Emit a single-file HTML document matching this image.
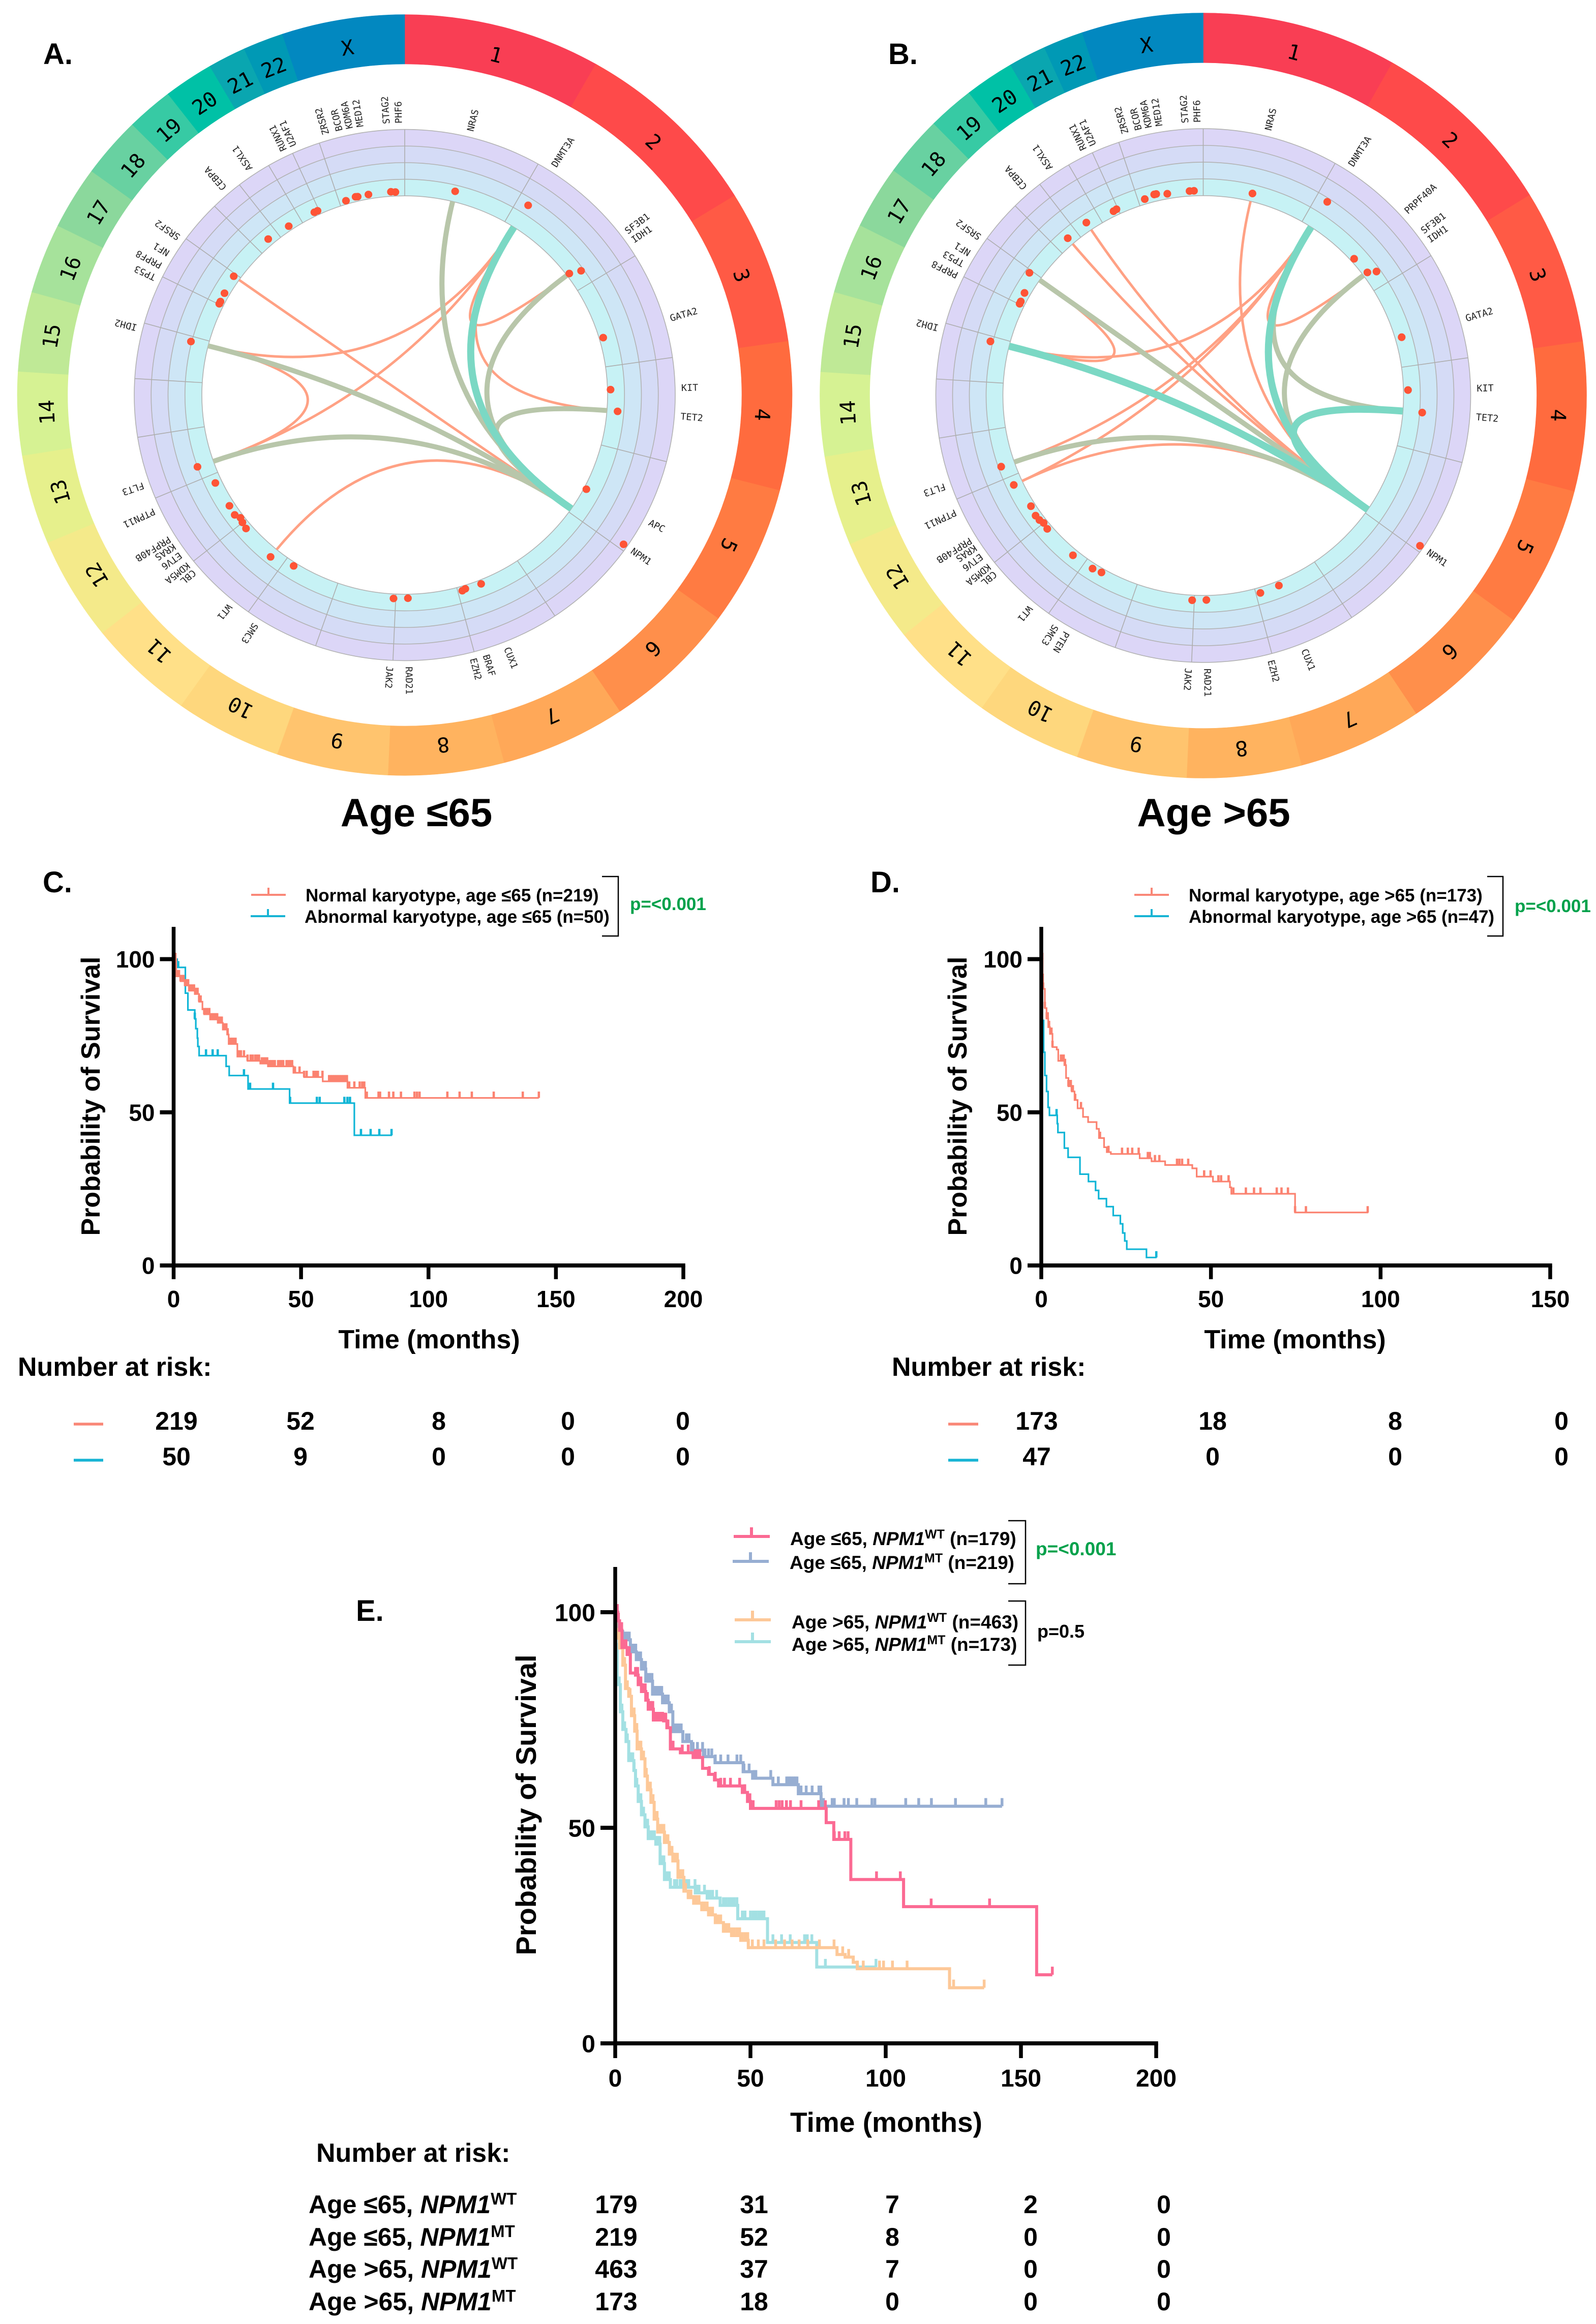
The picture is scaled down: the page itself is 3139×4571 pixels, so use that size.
<!DOCTYPE html>
<html lang="en">
<head>
<meta charset="utf-8">
<title>Circos and survival panels</title>
<style>
html,body{margin:0;padding:0;background:#fff;}
svg{display:block;}
text{font-family:"Liberation Sans",Arial,sans-serif;fill:#000;}
.b{font-weight:700;}
.mono{font-family:"DejaVu Sans Mono",monospace;}
</style>
</head>
<body>
<svg id="fig" xmlns="http://www.w3.org/2000/svg" width="3139" height="4571" viewBox="0 0 3139 4571">
<rect width="3139" height="4571" fill="#fff"/>

<g id="circosA"></g>
<g id="circosB"></g>

<text class="b" x="85" y="126" font-size="58">A.</text>
<text class="b" x="1747" y="126" font-size="58">B.</text>
<text class="b" x="819" y="1625" font-size="78" text-anchor="middle">Age ≤65</text>
<text class="b" x="2387" y="1625" font-size="78" text-anchor="middle">Age &gt;65</text>

<g id="kmC"></g>
<g id="kmD"></g>
<g id="kmE"></g>

<text class="b" x="84" y="1755" font-size="58">C.</text>
<text class="b" x="1712" y="1755" font-size="58">D.</text>
<text class="b" x="700" y="3188" font-size="58">E.</text>

<!-- Legend C -->
<g>
  <path d="M494 1760H562M528 1760V1746" stroke="#f98777" stroke-width="4" fill="none"/>
  <text class="b" x="601" y="1773" font-size="35">Normal karyotype, age ≤65 (n=219)</text>
  <path d="M493 1802H561M527 1802V1788" stroke="#17b4d4" stroke-width="4" fill="none"/>
  <text class="b" x="599" y="1815" font-size="35">Abnormal karyotype, age ≤65 (n=50)</text>
  <path d="M1184 1724H1216V1841H1184" stroke="#000" stroke-width="2.5" fill="none"/>
  <text class="b" x="1239" y="1790" font-size="35" style="fill:#00a14b">p=&lt;0.001</text>
</g>
<!-- Legend D -->
<g>
  <path d="M2231 1760H2299M2265 1760V1746" stroke="#f98777" stroke-width="4" fill="none"/>
  <text class="b" x="2338" y="1773" font-size="35">Normal karyotype, age &gt;65 (n=173)</text>
  <path d="M2231 1802H2299M2265 1802V1788" stroke="#17b4d4" stroke-width="4" fill="none"/>
  <text class="b" x="2338" y="1815" font-size="35">Abnormal karyotype, age &gt;65 (n=47)</text>
  <path d="M2925 1724H2956V1841H2925" stroke="#000" stroke-width="2.5" fill="none"/>
  <text class="b" x="2979" y="1794" font-size="35" style="fill:#00a14b">p=&lt;0.001</text>
</g>
<!-- Legend E -->
<g>
  <path d="M1443 3022H1514M1478 3022V3004" stroke="#fb6a93" stroke-width="6" fill="none"/>
  <text class="b" x="1554" y="3039" font-size="37">Age ≤65, <tspan font-style="italic">NPM1</tspan><tspan dy="-13" font-size="25">WT</tspan><tspan dy="13"> (n=179)</tspan></text>
  <path d="M1441 3071H1512M1476 3071V3053" stroke="#97aed2" stroke-width="6" fill="none"/>
  <text class="b" x="1553" y="3086" font-size="37">Age ≤65, <tspan font-style="italic">NPM1</tspan><tspan dy="-13" font-size="25">MT</tspan><tspan dy="13"> (n=219)</tspan></text>
  <path d="M1445 3186H1516M1480 3186V3168" stroke="#fdc898" stroke-width="6" fill="none"/>
  <text class="b" x="1557" y="3203" font-size="37">Age &gt;65, <tspan font-style="italic">NPM1</tspan><tspan dy="-13" font-size="25">WT</tspan><tspan dy="13"> (n=463)</tspan></text>
  <path d="M1445 3229H1516M1480 3229V3211" stroke="#a3e0e3" stroke-width="6" fill="none"/>
  <text class="b" x="1557" y="3247" font-size="37">Age &gt;65, <tspan font-style="italic">NPM1</tspan><tspan dy="-13" font-size="25">MT</tspan><tspan dy="13"> (n=173)</tspan></text>
  <path d="M1983 2991H2017V3115H1983" stroke="#000" stroke-width="2.5" fill="none"/>
  <path d="M1983 3149H2017V3275H1983" stroke="#000" stroke-width="2.5" fill="none"/>
  <text class="b" x="2037" y="3059" font-size="37" style="fill:#00a14b">p=&lt;0.001</text>
  <text class="b" x="2040" y="3221" font-size="36">p=0.5</text>
</g>

<!-- Axis titles -->
<text class="b" font-size="52" text-anchor="middle" transform="translate(196,2156) rotate(-90)">Probability of Survival</text>
<text class="b" font-size="52" text-anchor="middle" transform="translate(1901,2156) rotate(-90)">Probability of Survival</text>
<text class="b" font-size="56" text-anchor="middle" transform="translate(1054,3550) rotate(-90)">Probability of Survival</text>
<text class="b" font-size="52" x="844" y="2652" text-anchor="middle">Time (months)</text>
<text class="b" font-size="52" x="2547" y="2652" text-anchor="middle">Time (months)</text>
<text class="b" font-size="55" x="1743" y="4193" text-anchor="middle">Time (months)</text>

<text class="b" font-size="52" x="35" y="2706">Number at risk:</text>
<text class="b" font-size="52" x="1754" y="2706">Number at risk:</text>
<text class="b" font-size="52" x="622" y="4252">Number at risk:</text>

<path d="M145 2801H203" stroke="#f98777" stroke-width="5.5"/>
<path d="M145 2872H203" stroke="#17b4d4" stroke-width="5.5"/>
<path d="M1865 2801H1924" stroke="#f98777" stroke-width="5.5"/>
<path d="M1865 2872H1924" stroke="#17b4d4" stroke-width="5.5"/>

<text class="b" x="607" y="4353" font-size="50">Age ≤65, <tspan font-style="italic">NPM1</tspan><tspan dy="-17" font-size="33">WT</tspan></text>
<text class="b" x="607" y="4417" font-size="50">Age ≤65, <tspan font-style="italic">NPM1</tspan><tspan dy="-17" font-size="33">MT</tspan></text>
<text class="b" x="607" y="4480" font-size="50">Age &gt;65, <tspan font-style="italic">NPM1</tspan><tspan dy="-17" font-size="33">WT</tspan></text>
<text class="b" x="607" y="4544" font-size="50">Age &gt;65, <tspan font-style="italic">NPM1</tspan><tspan dy="-17" font-size="33">MT</tspan></text>
</svg>

<script>
/* ---------- genome data (Mb) ---------- */
const chromNames = ['1','2','3','4','5','6','7','8','9','10','11','12','13','14','15','16','17','18','19','20','21','22','X'];
const chromLengths = [249.25,243.2,198.02,191.15,180.92,171.12,159.14,146.36,141.21,135.53,135.01,133.85,115.17,107.35,102.53,90.35,81.2,78.08,59.13,63.03,48.13,51.3,155.27];
const chromColors = ['#f93e54','#fe4a4a','#ff5a45','#ff6b3e','#ff7b42','#ff8f4b','#ffa858','#ffb35f','#ffc46e','#fed77d','#ffe088','#f4ea8a','#e6f08c','#d6f293','#bfe996','#a6e29b','#8bd89c','#68d1a1','#37caa4','#00c1a6','#0aa6b0','#0099b5','#0288c0'];
const geneNames = ['NRAS','DNMT3A','PRPF40A','SF3B1','IDH1','GATA2','KIT','TET2','APC','NPM1','CUX1','BRAF','EZH2','RAD21','JAK2','PTEN','SMC3','WT1','CBL','KDM5A','ETV6','KRAS','PRPF40B','PTPN11','FLT3','IDH2','PRPF8','TP53','NF1','SRSF2','CEBPA','ASXL1','RUNX1','U2AF1','ZRSR2','BCOR','KDM6A','MED12','STAG2','PHF6'];
const geneChroms = ['1','2','2','2','2','3','4','4','5','5','7','7','7','8','9','10','10','11','11','12','12','12','12','12','13','15','17','17','17','17','19','20','21','21','X','X','X','X','X','X'];
const geneMb = [115.25,25.5,153.5,198.3,209.1,128.2,55.6,106.2,112.2,170.8,101.7,140.5,148.5,117.9,5.1,89.7,112.3,32.4,119.1,0.4,11.9,25.4,50,112.9,28.6,90.6,1.6,7.6,29.4,74.7,33.8,31,36.3,44.5,15.8,39.9,44.7,70.3,123.1,133.5];

/* mutation level per gene, in track-band units */
const levelsAGenes = ['NRAS','DNMT3A','SF3B1','IDH1','GATA2','KIT','TET2','APC','NPM1','CUX1','BRAF','EZH2','RAD21','JAK2','SMC3','WT1','CBL','KDM5A','ETV6','KRAS','PRPF40B','PTPN11','FLT3','IDH2','TP53','PRPF8','NF1','SRSF2','CEBPA','ASXL1','RUNX1','U2AF1','ZRSR2','BCOR','KDM6A','MED12','STAG2','PHF6'];
const levelsA = [0.63,1.56,0.18,0.84,0.24,0.18,0.63,0.15,3.76,0.24,0.21,0.27,0.24,0.27,0.21,0.57,0.36,0.29,0.21,0.38,0.33,0.39,1.0,1.05,0.27,0.27,0.3,0.39,0.39,0.27,0.24,0.24,0.21,0.29,0.27,0.27,0.27,0.24];
const levelsBGenes = ['NRAS','DNMT3A','PRPF40A','SF3B1','IDH1','GATA2','KIT','TET2','NPM1','CUX1','EZH2','RAD21','JAK2','PTEN','SMC3','WT1','CBL','KDM5A','ETV6','KRAS','PRPF40B','PTPN11','FLT3','IDH2','TP53','PRPF8','NF1','SRSF2','CEBPA','ASXL1','RUNX1','U2AF1','ZRSR2','BCOR','KDM6A','MED12','STAG2','PHF6'];
const levelsB = [0.48,1.79,0.21,0.3,0.77,0.39,0.27,1.15,3.79,0.27,0.33,0.27,0.3,0.24,0.32,0.36,0.3,0.24,0.33,0.36,0.27,0.55,0.83,1.15,0.3,0.3,0.35,0.75,0.45,0.52,0.3,0.33,0.3,0.42,0.42,0.3,0.3,0.3];
const linksA = [['NPM1','SRSF2','s'],['NPM1','WT1','s'],['DNMT3A','IDH2','s'],['DNMT3A','FLT3','s'],['IDH2','FLT3','s'],['DNMT3A','SF3B1','s'],['DNMT3A','TET2','s'],['NPM1','NRAS','m'],['NPM1','TET2','m'],['NPM1','SF3B1','m'],['NPM1','IDH2','m'],['NPM1','FLT3','m'],['NPM1','DNMT3A','l']];
const linksB = [['NPM1','NRAS','s'],['NPM1','CEBPA','s'],['NPM1','ASXL1','s'],['DNMT3A','IDH2','s'],['IDH2','SRSF2','s'],['DNMT3A','FLT3','s'],['DNMT3A','PTPN11','s'],['NPM1','PTPN11','s'],['DNMT3A','SF3B1','s'],['NPM1','SRSF2','m'],['NPM1','FLT3','m'],['DNMT3A','TET2','m'],['NPM1','SF3B1','m'],['NPM1','DNMT3A','l'],['NPM1','IDH2','l'],['NPM1','TET2','l']];
const labelNudge = {IDH1:1,EZH2:1.8,ETV6:1.3,KRAS:1.9,PRPF40B:0.8,NF1:1.4,U2AF1:1.2,KDM6A:1.6,MED12:0.8,PHF6:1.3};

/* ---------- survival data: step times (months), survival (%), censor times ---------- */
const tickY = [0,50,100];
const tickX200 = [0,50,100,150,200];
const tickX150 = [0,50,100,150];

const cNormT = [0,1,2.7,4.35,6,8.3,10,11.3,12,14.3,17.3,19.3,21,21.6,25,29,34,37,47,51.2,58.5,68.2,75.2,143.3];
const cNormS = [100,94.4,92.8,91.4,89.7,88.6,86.1,83.6,82,80.3,79.2,77,75.4,72.3,68.2,66.8,65.9,65,62.9,61.5,60.1,58,54.7,54.7];
const cNormC = [0.3,0.7,1.5,2.1,2.7,3.3,3.9,4.5,5.1,5.7,6.3,6.9,7.4,8,8.7,9.4,10,10.6,12,12.7,13.3,14,14.7,15.3,15.9,16.5,17.1,17.7,18.3,18.9,19.5,20.1,20.7,21.2,21.8,22.5,23.1,23.7,24.3,25.2,25.8,26.4,27.6,29,30.2,31,32,32.7,33.5,34.6,35.3,36,36.7,37.6,38.3,39,39.7,41,41.7,42.4,43,44.3,45,45.7,46.5,47.6,49.4,51.2,52.2,54.9,55.7,56.6,58.4,61,61.7,62.4,63.1,63.8,64.5,65.2,65.9,66.6,67.3,68,68.9,70.9,73,74,74.8,75.8,80.4,81,84.5,86.2,89.2,94.5,95.5,96.5,107.4,112.2,117,125.6,137,143.3];
const cAbnT = [0,1.4,4.6,5.6,8.3,8.7,9.3,9.5,10,10.2,20.6,21.8,29.2,45.5,70.9,85.7];
const cAbnS = [100,97.3,88.9,83.4,80.5,77.3,74.2,71.5,68.5,68.5,65,62,57.6,53,42.5,42.5];
const cAbnC = [0,1.8,8.3,12.7,15.3,17.3,27.6,30,39,45.7,56.2,57.3,67,68.2,69.2,73.5,77.3,80.7,85.5];

const dNormT = [0,0.4,0.55,1.05,1.55,2.05,2.55,3.3,4.55,5,6.8,7.3,8,9,9.8,10.7,12.3,13.8,16.3,17,18.5,19.3,20.5,29,32.5,36.5,44.5,45.8,50.6,55.6,56,74.8,96.4];
const dNormS = [100,95,90.3,84,80.6,77.8,75.6,71.3,70.5,66.8,65.4,61.2,58.5,56.8,54,51.3,48.5,46.8,44.6,41.6,38.6,37,36.4,35,34,32.8,31.7,29,27.4,25.5,23.4,17.3,17.3];
const dNormC = [0,0.3,0.55,1.05,1.6,1.9,2.3,2.7,3,3.3,5.8,6.2,6.6,7,8,8.4,8.7,9,9.3,10,11.7,17.3,19.8,23.8,25.5,26.8,28.7,31.4,32,33.5,34.8,40,40.7,41.5,43.3,48,49.9,52.2,53,55.2,56.6,60.3,62.7,64.6,69.4,70.8,72.7,74.8,78,96.2];
const dAbnT = [0,0.1,0.3,0.7,1.05,1.55,2,2.4,4.7,4.9,6.8,7.9,11.4,13.9,16,16.9,19.2,21.2,23.3,24,24.6,25.2,31,34];
const dAbnS = [100,89,80,69.6,62,56.8,51.6,49,46.3,43.4,38.3,35.3,29.8,27.4,24.5,21.8,19.2,16.3,13.6,10.6,8,5.3,2.6,2.6];
const dAbnC = [0.05,0.1,4.5,33.9];

const eYoungWtT = [0,0.94,1.6,2.5,4.4,5.6,7.5,8.5,9.7,11.3,12.2,14.1,17.9,19.1,20.4,24.1,28.8,32.3,34.5,36.7,38.2,47,48.9,50,78,80.8,87.1,106.6,155.8,161.6];
const eYoungWtS = [100,98,95.8,91.8,90.2,85.9,85.4,83.2,81.6,79.6,77.5,75,74.8,73.2,68.3,67.4,66.3,63.8,62.4,61.1,59.7,58.2,56.1,54.5,51.2,47.3,38,31.7,15.9,15.9];
const eYoungWtC = [0,0.4,0.8,1.2,1.6,2,2.4,2.8,3.2,3.6,4,4.4,4.8,5.2,5.6,7.5,7.9,8.3,8.7,9.1,9.5,9.9,10.3,10.7,11.1,11.5,11.9,12.3,12.7,13.1,13.5,13.9,14.3,14.7,15.1,15.5,15.9,16.3,16.7,17.1,17.5,17.9,18.3,18.7,19.1,19.5,20.4,20.9,21.4,24.8,27,29.5,30.4,31.3,34.8,37,39,40.4,42.6,46,47.9,49.8,51,59.5,60.6,61.7,63.3,64.8,68.7,75.2,77.7,81,82.8,84.9,86.1,96.6,105.4,116.8,138.4,161.6];
const eYoungMtT = [0,0.94,3.1,5.6,7.8,9.7,11.3,13.8,17.5,20,21.3,25,28.2,32.6,36.9,47.3,50.8,58.3,67.7,76.1,143];
const eYoungMtS = [100,94,93.6,90.8,89,86.8,84,81,79,76.9,72.3,70,68,66.5,65.1,63,61.5,60,57.9,55,55];
const eYoungMtC = [1,1.6,2.2,2.8,3.4,4,4.6,5.2,5.8,6.4,7,7.6,8.2,8.8,9.4,10,10.6,11.2,11.8,12.4,13,13.6,14.2,14.8,15.4,16,16.6,17.2,17.8,18.4,19,19.6,20.2,20.8,21.4,22,22.6,23.2,23.8,24.4,26.3,27.3,28.8,30.4,32.3,33.2,34.5,35.7,37,39,41.7,45,46.4,47.6,49.5,51.4,52,57.5,60.3,63.4,64,64.6,65.2,65.9,66.5,67.2,68.7,70.6,72.8,75.3,76,77,80.2,81,84.6,86.2,89.3,94.9,96,107.4,112.2,116.9,125.8,137,143];
const eOldWtT = [0,0.3,0.6,1.6,2.8,3.8,5,6,7.2,8.1,9.7,11,11.9,13.2,14.4,15.7,18.2,20,21.3,23.2,25.4,27,29,32,34.5,37,40,43,46.4,49.2,82,85,88,89.5,123.6,136.4];
const eOldWtS = [100,96,94,91.7,87.7,82.3,80.5,76,72.4,68.3,66,62,58.8,55.9,52,49,46.6,43.9,42.3,38.5,35.3,33.8,32.5,31,29.8,28,26,25,23.9,22.2,20.6,20,18.8,17.3,12.9,12.9];
const eOldWtC = [1,1.5,2,2.5,3,3.5,4,4.5,5,5.5,6,6.5,7,7.5,8,8.5,9,9.5,10,10.5,11,11.5,12,12.5,13,13.5,14,14.5,15,15.5,16,16.5,17,17.5,18,18.5,19,19.5,20,20.5,21,21.5,22,22.5,23,23.5,24,25,26,27,28,29,30,31,32,33,34,35,36,37,38,39,40,41,42,43,44,45,46,47,48,49,50.7,52.9,55,59.3,62.6,65.4,68,71.2,75.5,80.9,84.1,86.3,89.5,91.7,97.7,99.2,102.5,107.9,125.1,136.4];
const eOldMtT = [0,0.3,0.75,1.9,2.8,4,5,6.9,7.5,8.5,9.7,11,12.2,15,16.6,18.2,20.4,29.6,34,38.8,45.3,56.3,74.5,96.4];
const eOldMtS = [100,91,83.2,76.9,72.8,70,65.6,63.3,59.7,56.1,53,50.2,47.5,46.2,41.7,38,36.2,34.9,33.7,32,28.9,23.4,17.7,17.7];
const eOldMtC = [0.5,1,1.5,2,2.5,3,3.5,4,4.5,5,5.5,6,6.5,7,7.5,8,8.5,9,9.5,10,10.5,11,11.5,12,12.5,13,13.5,14,14.5,15,15.5,16,16.5,17,17.5,18,18.5,19,19.5,20,21.9,22.8,24,25,26,26.6,27.2,29.5,30.5,31,33,34,35,36,37.5,40,41,42,43,44,45,47,48,50,51,52,53,54,55,58.3,61.5,64.7,70,71,72.7,77.7,96.4];

const riskC = [['219','52','8','0','0'],['50','9','0','0','0']];
const riskD = [['173','18','8','0'],['47','0','0','0']];
const riskE = [['179','31','7','2','0'],['219','52','8','0','0'],['463','37','7','0','0'],['173','18','0','0','0']];

/* ---------- helpers ---------- */
const NS = 'http://www.w3.org/2000/svg';
function mk(parent, tag, attrs, txt) {
  const el = document.createElementNS(NS, tag);
  for (const k in attrs) el.setAttribute(k, attrs[k]);
  if (txt !== undefined) el.textContent = txt;
  parent.appendChild(el);
  return el;
}
function polar(r, a) {
  const t = a * Math.PI / 180;
  return [r * Math.sin(t), -r * Math.cos(t)];
}
const genomeTotal = chromLengths.reduce((a, b) => a + b, 0);
function chromStart(i) {
  let s = 0;
  for (let k = 0; k < i; k++) s += chromLengths[k];
  return s;
}
function angleOf(chr, mb) {
  return (chromStart(chromNames.indexOf(chr)) + mb) / genomeTotal * 360;
}
function geneAngle(name) {
  const i = geneNames.indexOf(name);
  return angleOf(geneChroms[i], geneMb[i]);
}
function wedge(r0, r1, a0, a1) {
  const p = polar(r1, a0), q = polar(r1, a1), u = polar(r0, a1), v = polar(r0, a0);
  const big = a1 - a0 > 180 ? 1 : 0;
  return `M${p[0]} ${p[1]}A${r1} ${r1} 0 ${big} 1 ${q[0]} ${q[1]}L${u[0]} ${u[1]}A${r0} ${r0} 0 ${big} 0 ${v[0]} ${v[1]}Z`;
}

/* ---------- circos ---------- */
function drawCircos(host, o) {
  const g = mk(host, 'g', {transform: `translate(${o.cx},${o.cy}) scale(1,${o.sy})`});
  chromNames.forEach((name, i) => {
    const a0 = chromStart(i) / genomeTotal * 360;
    const a1 = (chromStart(i) + chromLengths[i]) / genomeTotal * 360;
    const seg = mk(g, 'path', {d: wedge(o.ringIn, o.ringOut, a0, a1), fill: chromColors[i], stroke: chromColors[i], 'stroke-width': 0.6});
    
    
    const t = mk(g, 'text', {class: 'mono', 'font-size': 41, 'text-anchor': 'middle', dy: '0.36em', transform: `rotate(${(a0 + a1) / 2}) translate(0,${-o.ringLabel})`}, name);
    
    
  });
  const fills = ['#dcd6f7', '#d5dbf6', '#cee6f6', '#c7f2f5'];
  fills.forEach((f, i) => {
    const c = mk(g, 'circle', {r: o.trackOut - i * o.band, fill: f, stroke: '#b2b2b2', 'stroke-width': 1.6});
    
    
  });
  const hole = mk(g, 'circle', {r: o.trackOut - 4 * o.band, fill: '#fff', stroke: '#b2b2b2', 'stroke-width': 1.6});
  
  
  chromNames.forEach((name, i) => {
    const a = chromStart(i) / genomeTotal * 360;
    const p = polar(o.trackOut, a), q = polar(o.trackOut - 4 * o.band, a);
    const l = mk(g, 'line', {x1: p[0], y1: p[1], x2: q[0], y2: q[1], stroke: '#adadad', 'stroke-width': 1.6});
    
    
  });
  const inner = o.trackOut - 4 * o.band;
  const style = {s: ['#ffa184', 5], m: ['#b8c6aa', 10], l: ['#7bd8c4', 14]};
  o.links.forEach(lk => {
    const p = polar(inner, geneAngle(lk[0])), q = polar(inner, geneAngle(lk[1]));
    const path = mk(g, 'path', {d: `M${p[0]} ${p[1]}Q0 0 ${q[0]} ${q[1]}`, fill: 'none', stroke: style[lk[2]][0], 'stroke-width': style[lk[2]][1]});
    
    
  });
  o.genes.forEach((name, i) => {
    const a = geneAngle(name);
    const p = polar(inner + o.levels[i] * o.band, a);
    const c = mk(g, 'circle', {cx: p[0], cy: p[1], r: 7.6, fill: '#ff5436'});
    
    
    let la = a + (labelNudge[name] || 0);
    if (o.nudge[name] !== undefined) la = a + o.nudge[name];
    const t = mk(g, 'text', {class: 'mono', 'font-size': 18.5, dy: '0.36em', transform: `rotate(${la}) translate(0,${-(o.trackOut + 12)}) rotate(-90)`, style: 'fill:#222'}, name);
    
    
  });
}
drawCircos(document.getElementById('circosA'), {cx: 796, cy: 777, sy: 0.982, ringOut: 762, ringIn: 663, ringLabel: 705, trackOut: 532, band: 33.25, genes: levelsAGenes, levels: levelsA, links: linksA, nudge: {TP53: -1.8, PRPF8: 1.7}});
drawCircos(document.getElementById('circosB'), {cx: 2366.5, cy: 778, sy: 0.998, ringOut: 754, ringIn: 656, ringLabel: 700, trackOut: 526, band: 33, genes: levelsBGenes, levels: levelsB, links: linksB, nudge: {TP53: 1.4, PRPF8: -0.6}});

/* ---------- survival charts ---------- */
function survivalAt(ts, ss, t) {
  let v = ss[0];
  for (let i = 0; i < ts.length; i++) if (ts[i] <= t) v = ss[i];
  return v;
}
function drawKM(host, o) {
  const x = t => o.x0 + t * o.xk;
  const y = s => o.y0 - s * o.yk;
  o.series.forEach(se => {
    let d = `M${x(se.t[0])} ${y(se.s[0])}`;
    for (let i = 1; i < se.t.length; i++) d += `H${x(se.t[i])}V${y(se.s[i])}`;
    const line = mk(host, 'path', {d: d, fill: 'none', stroke: se.color, 'stroke-width': o.lw});
    
    
    se.c.forEach(t => {
      const s = survivalAt(se.t, se.s, t);
      const tick = mk(host, 'line', {x1: x(t), x2: x(t), y1: y(s), y2: y(s) - o.censor, stroke: se.color, 'stroke-width': o.cw});
      
      
    });
  });
  const yAxis = mk(host, 'line', {x1: o.x0, x2: o.x0, y1: o.yTop, y2: o.y0 + 4, stroke: '#000', 'stroke-width': 7.5});
  
  
  const xAxis = mk(host, 'line', {x1: o.x0 - 3.75, x2: x(o.xTicks[o.xTicks.length - 1]) + 3.75, y1: o.y0, y2: o.y0, stroke: '#000', 'stroke-width': 8});
  
  
  tickY.forEach(v => {
    const t = mk(host, 'line', {x1: o.x0 - o.tick, x2: o.x0, y1: y(v), y2: y(v), stroke: '#000', 'stroke-width': 8});
    
    
    const lab = mk(host, 'text', {class: 'b', x: o.x0 - o.tick - 10, y: y(v) + o.fs * 0.36, 'font-size': o.fs, 'text-anchor': 'end'}, String(v));
    
    
  });
  o.xTicks.forEach(v => {
    const t = mk(host, 'line', {x1: x(v), x2: x(v), y1: o.y0, y2: o.y0 + o.tick, stroke: '#000', 'stroke-width': 7.5});
    
    
    const lab = mk(host, 'text', {class: 'b', x: x(v), y: o.xLabelY, 'font-size': o.fs, 'text-anchor': 'middle'}, String(v));
    
    
  });
}
function drawRisk(host, rows, cols, ys, fs) {
  rows.forEach((row, r) => {
    row.forEach((v, c) => {
      const t = mk(host, 'text', {class: 'b', x: cols[c], y: ys[r] + fs * 0.36, 'font-size': fs, 'text-anchor': 'middle'}, v);
      
      
    });
  });
}
const hostC = document.getElementById('kmC');
const hostD = document.getElementById('kmD');
const hostE = document.getElementById('kmE');
drawKM(hostC, {x0: 341.5, xk: 5.0125, y0: 2489, yk: 6.025, yTop: 1823, lw: 3.2, cw: 4.6, censor: 12.5, tick: 27, fs: 46, xLabelY: 2571, xTicks: tickX200, series: [
  {name: 'normal-karyotype-young', color: '#fb8270', t: cNormT, s: cNormS, c: cNormC},
  {name: 'abnormal-karyotype-young', color: '#0fb5d6', t: cAbnT, s: cAbnS, c: cAbnC}
].reverse()});
drawKM(hostD, {x0: 2048, xk: 6.673, y0: 2489, yk: 6.025, yTop: 1823, lw: 3.2, cw: 4.6, censor: 12.5, tick: 27, fs: 46, xLabelY: 2571, xTicks: tickX150, series: [
  {name: 'normal-karyotype-old', color: '#fb8270', t: dNormT, s: dNormS, c: dNormC},
  {name: 'abnormal-karyotype-old', color: '#0fb5d6', t: dAbnT, s: dAbnS, c: dAbnC}
].reverse()});
drawKM(hostE, {x0: 1210, xk: 5.32, y0: 4019, yk: 8.48, yTop: 3082, lw: 6, cw: 5.5, censor: 16, tick: 29, fs: 48, xLabelY: 4104, xTicks: tickX200, series: [
  {name: 'young-npm1-mutant', color: '#97aed2', t: eYoungMtT, s: eYoungMtS, c: eYoungMtC},
  {name: 'old-npm1-mutant', color: '#a3e0e3', t: eOldMtT, s: eOldMtS, c: eOldMtC},
  {name: 'old-npm1-wildtype', color: '#fdc898', t: eOldWtT, s: eOldWtS, c: eOldWtC},
  {name: 'young-npm1-wildtype', color: '#fb6a93', t: eYoungWtT, s: eYoungWtS, c: eYoungWtC}
]});
drawRisk(hostC, riskC, [347, 591, 863, 1117, 1343], [2794, 2864], 50);
drawRisk(hostD, riskD, [2039, 2385, 2744, 3071], [2794, 2864], 50);
drawRisk(hostE, riskE, [1212, 1483, 1755, 2027, 2289], [4335, 4399, 4462, 4526], 50);
</script>
</body>
</html>
